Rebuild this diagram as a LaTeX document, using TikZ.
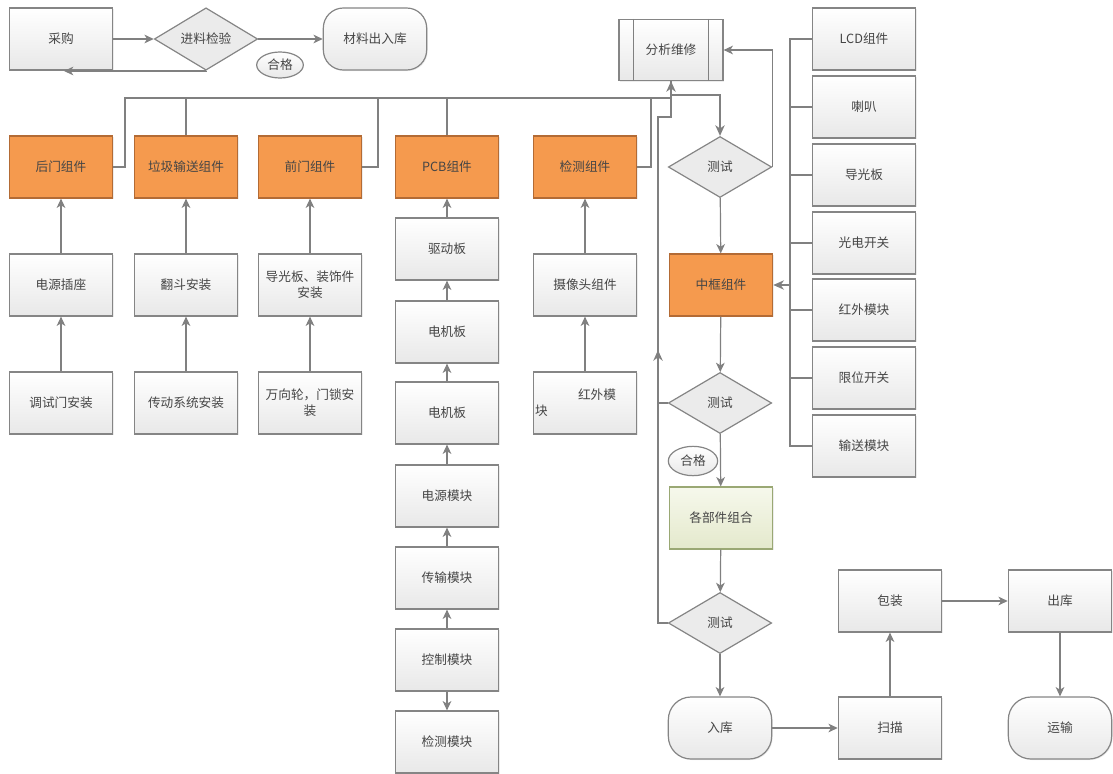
\documentclass[tikz,border=0pt]{standalone}
\usepackage{fontspec}
\newfontfamily\cjk{Noto Sans CJK SC}
\usetikzlibrary{shapes.geometric,arrows.meta,shadows}
\definecolor{ln}{HTML}{808080}
\definecolor{bd}{HTML}{858585}
\definecolor{tx}{HTML}{454545}
\definecolor{org}{HTML}{F59A4E}
\definecolor{orgbd}{HTML}{B36B35}
\definecolor{grnt}{HTML}{F6F8EC}
\definecolor{grnb}{HTML}{E4E9CC}
\definecolor{grnbd}{HTML}{9AA874}
\definecolor{dia}{HTML}{EBEBEB}
\tikzset{
  base/.style={draw=bd, line width=0.9pt, font=\cjk\fontsize{9.5pt}{12pt}\selectfont, text=tx, inner sep=1pt, align=center},
  shd/.style={drop shadow={opacity=0.15,shadow xshift=0.8pt,shadow yshift=-0.8pt}},
  pbox/.style={base, rectangle, minimum width=77.5pt, minimum height=46.5pt, top color=white, bottom color=black!9, shd},
  obox/.style={base, rectangle, minimum width=77.5pt, minimum height=46.5pt, fill=org, draw=orgbd, shd},
  gbox/.style={base, rectangle, minimum width=77.5pt, minimum height=46.5pt, top color=grnt, bottom color=grnb, draw=grnbd, shd},
  rbox/.style={pbox, rounded corners=15pt},
  dmd/.style={base, diamond, minimum width=77.5pt, minimum height=45.75pt, inner sep=0pt, fill=dia},
  ell/.style={base, ellipse, inner sep=0pt, top color=white, bottom color=black!9},
  conn/.style={draw=ln, line width=0.9pt},
  arr/.style={conn, -{Stealth[length=7pt,width=6.5pt,inset=2pt]}},
  bus/.style={draw=ln, line width=1.3pt},
  barr/.style={bus, -{Stealth[length=8pt,width=7pt,inset=2.5pt]}},
}
\begin{document}
\begin{tikzpicture}[x=0.75pt,y=-0.75pt]
\useasboundingbox (0,0) rectangle (1113,774);
% top row
\node[pbox] (caigou) at (61,39) {采购};
\node[dmd] (jinliao) at (206,39) {进料检验};
\node[rbox] (cailiao) at (375,39) {材料出入库};
\node[ell, minimum width=35pt, minimum height=19.5pt] (hege1) at (280,65) {合格};
\node[pbox, minimum width=78pt, minimum height=45.75pt] (fenxi) at (671,50) {分析维修};
\draw[conn] ([xshift=11.25pt]fenxi.north west) -- ([xshift=11.25pt]fenxi.south west);
\draw[conn] ([xshift=-11.25pt]fenxi.north east) -- ([xshift=-11.25pt]fenxi.south east);
\coordinate (ret) at (64,71);
\draw[arr] (caigou) -- (jinliao);
\draw[arr] (jinliao) -- (cailiao);
\draw[arr] (jinliao.south) |- (ret);
% orange row
\node[obox] (houmen) at (61,167) {后门组件};
\node[obox] (laji) at (186,167) {垃圾输送组件};
\node[obox] (qianmen) at (310,167) {前门组件};
\node[obox] (pcb) at (447,167) {PCB组件};
\node[obox] (jiance) at (585,167) {检测组件};
% second row
\node[pbox] (dianyuan) at (61,285) {电源插座};
\node[pbox] (fandou) at (186,285) {翻斗安装};
\node[pbox] (daoguang) at (310,285) {导光板、装饰件\\安装};
\node[pbox] (shexiang) at (585,285) {摄像头组件};
% third row
\node[pbox] (tiaoshi) at (61,403) {调试门安装};
\node[pbox] (chuandong) at (186,403) {传动系统安装};
\node[pbox] (wanxiang) at (310,403) {万向轮，门锁安\\装};
\node[pbox, text width=75pt, align=left] (hongwai) at (585,403) {\hspace*{3.4em}红外模\\块};
% PCB column
\node[pbox] (qudong) at (447,249) {驱动板};
\node[pbox] (dj1) at (447,332) {电机板};
\node[pbox] (dj2) at (447,413) {电机板};
\node[pbox] (dymk) at (447,496) {电源模块};
\node[pbox] (csmk) at (447,578) {传输模块};
\node[pbox] (kzmk) at (447,660) {控制模块};
\node[pbox] (jcmk) at (447,742) {检测模块};
% right column
\node[pbox] (lcd) at (864,39) {LCD组件};
\node[pbox] (laba) at (864,107) {喇叭};
\node[pbox] (dgb) at (864,175) {导光板};
\node[pbox] (gdkg) at (864,243) {光电开关};
\node[pbox] (hwmk) at (864,310) {红外模块};
\node[pbox] (xwkg) at (864,378) {限位开关};
\node[pbox] (ssmk) at (864,446) {输送模块};
% middle column
\node[dmd] (test1) at (720,167) {测试};
\node[obox] (zk) at (721,285) {中框组件};
\node[dmd] (test2) at (720,403) {测试};
\node[ell, minimum width=37pt, minimum height=22pt] (hege2) at (693,461) {合格};
\node[gbox] (zuhe) at (721,518) {各部件组合};
\node[dmd] (test3) at (720,623) {测试};
\node[rbox, rounded corners=17pt] (ruku) at (720,728) {入库};
\node[pbox] (saomiao) at (890,728) {扫描};
\node[pbox] (baozhuang) at (890,601) {包装};
\node[pbox] (chuku) at (1060,601) {出库};
\node[rbox, rounded corners=17pt] (yunshu) at (1060,728) {运输};
% vertical arrows left columns
\draw[arr] (dianyuan) -- (houmen);
\draw[arr] (tiaoshi) -- (dianyuan);
\draw[arr] (fandou) -- (laji);
\draw[arr] (chuandong) -- (fandou);
\draw[arr] (daoguang) -- (qianmen);
\draw[arr] (wanxiang) -- (daoguang);
\draw[arr] (shexiang) -- (jiance);
\draw[arr] (hongwai) -- (shexiang);
\draw[arr] (qudong) -- (pcb);
\draw[arr] (dj1) -- (qudong);
\draw[arr] (dj2) -- (dj1);
\draw[arr] (dymk) -- (dj2);
\draw[arr] (csmk) -- (dymk);
\draw[arr] (kzmk) -- (csmk);
\draw[arr] (kzmk) -- (jcmk);
% top bus
\coordinate (bL) at (671,98);
\draw[bus] (houmen.east) -- ++(12,0) |- (bL);
\draw[bus] (laji.north) -- (laji.north |- bL);
\draw[bus] (qianmen.east) -- ++(16,0) |- (bL);
\draw[bus] (pcb.north) -- (pcb.north |- bL);
\draw[bus] (jiance.east) -- ++(14,0) |- (bL);
\draw[barr] (bL) -- (fenxi.south);
\draw[barr] (fenxi.south) |- ([yshift=2pt]bL) -| (test1.north);
% feedback loop
\coordinate (fb) at (658,117);
\coordinate (fbm) at (658,350);
\draw[conn] (test3.west) -| (fb) -| (fenxi.south);
\draw[barr] (test2.west) -| (fbm);
\draw[arr] (test1.east) |- (fenxi.east);
% right bus
\coordinate (bt) at (790,39);
\draw[conn] (lcd.west) -- (bt) -- (bt |- ssmk.west) -- (ssmk.west);
\foreach \n in {laba,dgb,gdkg,hwmk,xwkg}{\draw[conn] (\n.west) -- (bt |- \n.west);}
\draw[barr] (bt |- zk.east) -- (zk.east);
% middle flow
\draw[arr] (test1) -- (zk);
\draw[arr] (zk) -- (test2);
\draw[arr] (test2) -- (zuhe);
\draw[arr] (zuhe) -- (test3);
\draw[arr] (test3) -- (ruku);
\draw[arr] (ruku) -- (saomiao);
\draw[arr] (saomiao) -- (baozhuang);
\draw[arr] (baozhuang) -- (chuku);
\draw[arr] (chuku) -- (yunshu);
\end{tikzpicture}
\end{document}
